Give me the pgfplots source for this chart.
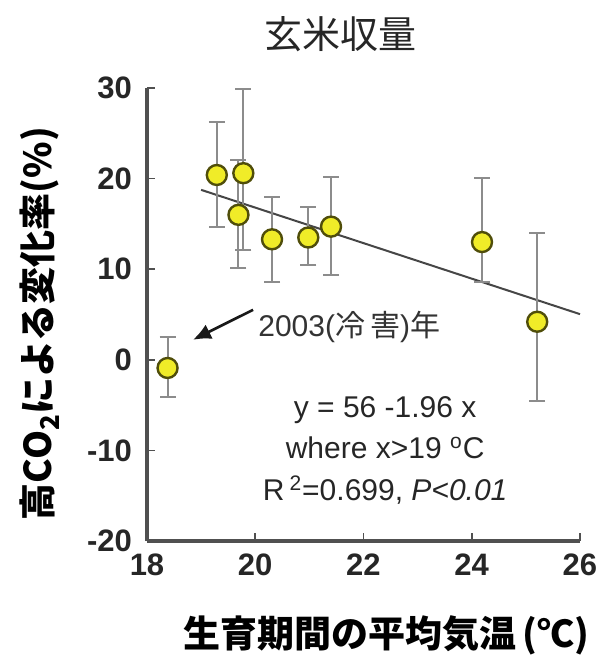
\documentclass[border=0pt]{standalone}
\usepackage{pgfplots}
\pgfplotsset{compat=1.18}
\usepackage{pgfplotstable}
\usetikzlibrary{arrows.meta}
\usepackage{fontspec}
\setmainfont{Liberation Sans}
\newfontfamily\jp{Noto Sans CJK JP}
\definecolor{ptyellow}{RGB}{240,236,40}
\definecolor{ptedge}{RGB}{80,78,10}
\definecolor{errgray}{RGB}{140,140,140}
\definecolor{axisgray}{RGB}{80,80,80}
\definecolor{linegray}{RGB}{70,70,70}
\pgfplotstableread{
x y ep em
18.38 -0.9 3.4 3.2
19.29 20.4 5.9 5.7
19.69 16.0 6.0 5.9
19.78 20.6 9.3 8.5
20.31 13.3 4.7 4.7
20.98 13.5 3.4 3.0
21.40 14.7 5.5 5.3
24.19 13.0 7.1 4.4
25.21 4.2 9.8 8.8
}\datatable
\pgfplotstableread{
x y
19 18.76
26 5.04
}\fittable
\begin{document}
\begin{tikzpicture}
\path[use as bounding box] (-73.5pt,-60pt) rectangle (226.5pt,270.5pt);
\begin{axis}[
  scale only axis, width=216.5pt, height=226.5pt,
  xmin=18, xmax=26, ymin=-20, ymax=30,
  axis x line*=bottom, axis y line*=left,
  axis line style={-, line width=1.6pt, color=axisgray},
  xtick={18,20,22,24,26}, ytick={-20,-10,0,10,20,30},
  tick align=inside, major tick length=4pt,
  tick style={line width=0.8pt, color=axisgray},
  ticklabel style={font=\bfseries\fontsize{15.5}{15.5}\selectfont, text=black!85},
  yticklabel style={xshift=-4pt},
  xticklabel style={yshift=-3pt},
  /pgf/number format/assume math mode=true,
  clip=false,
]
\addplot[linegray, line width=1pt] table[x=x, y=y] {\fittable};
\addplot[only marks, mark=*, mark size=5pt,
  mark options={fill=ptyellow, draw=ptedge, line width=1.2pt},
  error bars/.cd, y dir=both, y explicit,
  error bar style={line width=1pt, color=errgray},
  error mark options={rotate=90, mark size=4pt, line width=1pt, color=errgray}]
  table[x=x, y=y, y error plus=ep, y error minus=em] {\datatable};
\draw[-{Latex[length=9pt,width=8pt]}, line width=1.3pt, black!90] (axis cs:19.96,5.52) -- (axis cs:18.85,2.21);
\node[anchor=west, inner sep=0pt, font=\fontsize{15}{15}\selectfont, text=black!80] at (axis cs:20.05,3.6) {2003({\jp 冷\,害}){\jp 年}};
\node[inner sep=0pt, font=\fontsize{15}{15}\selectfont, text=black!85] at (axis cs:22.4,-5.52) {y = 56 -1.96 x};
\node[inner sep=0pt, font=\fontsize{15}{15}\selectfont, text=black!85] at (axis cs:22.4,-9.72) {where x>19 \textsuperscript{o}C};
\node[inner sep=0pt, font=\fontsize{15}{15}\selectfont, text=black!85] at (axis cs:22.4,-14.36) {R\,\textsuperscript{2}=0.699, \textit{P<0.01}};
\node[font=\jp\fontsize{19}{19}\selectfont, text=black!85] at (axis cs:21.57,35.9) {玄米収量};
\node[rotate=90, font=\jp\bfseries\fontsize{18.5}{18.5}\selectfont] at (axis cs:16.02,4.0) {高CO\textsubscript{2}による変化率(\%)};
\node[font=\jp\bfseries\fontsize{18.5}{18.5}\selectfont] at (axis cs:22.42,-30.4) {生育期間の平均気温\,(℃)};
\end{axis}
\end{tikzpicture}
\end{document}
